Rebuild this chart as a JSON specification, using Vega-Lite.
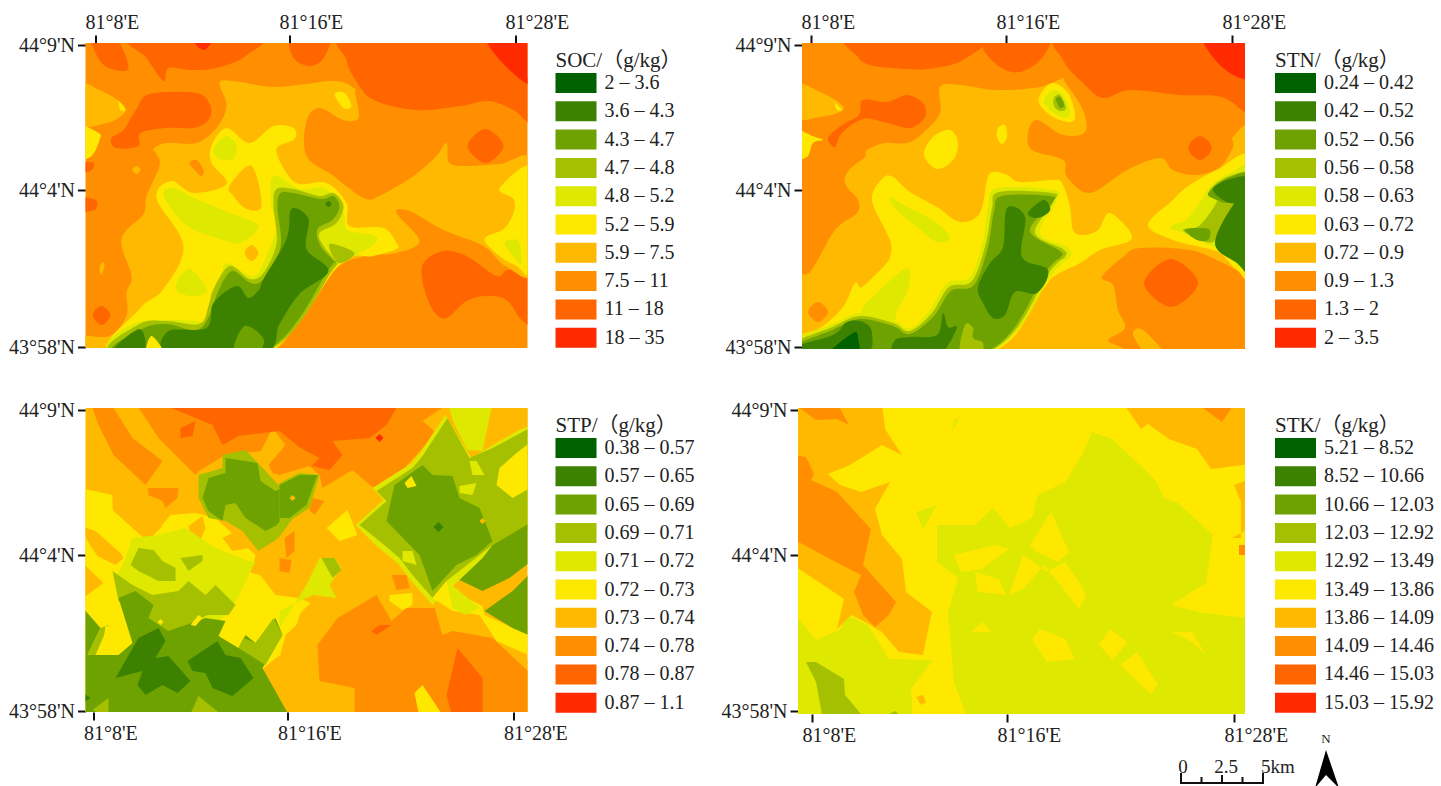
{"$schema":"https://vega.github.io/schema/vega-lite/v6.json","padding":{"left":7.5,"top":12,"right":0,"bottom":0},"background":"white",
"config":{"view":{"stroke":null},"axis":{"labelFont":"Liberation Serif","labelFontSize":20,"labelColor":"#222","tickColor":"#111","tickWidth":2,"tickSize":8,"domain":false,"grid":false,"title":null,"labelOverlap":false,"labelBound":false,"labelPadding":3},"legend":{"titleFont":"Liberation Serif, Noto Sans CJK SC","titleFontSize":21,"titleFontWeight":"normal","titleColor":"#222","labelFont":"Liberation Serif","labelFontSize":20,"labelColor":"#222","symbolType":"M-1,-1H3.1V1H-1Z","symbolSize":400,"symbolStrokeWidth":0,"symbolOpacity":1,"labelOffset":29,"rowPadding":8.3,"titlePadding":2,"padding":0,"orient":"none","labelLimit":200,"titleLimit":300}},
"datasets":{
"SOC":[
{"g":0,"k":"7.5 – 11","x":[-99,550,550,-99],"y":[-99,-99,450,450]},
{"g":1,"k":"11 – 18","x":[6,28,43,23,11],"y":[-9,-9,25,25,12]},
{"g":2,"k":"11 – 18","x":[43,174,160,131,105,83,78,61],"y":[-9,-9,13,25,27,25,38,15]},
{"g":3,"k":"18 – 35","x":[108,126,118],"y":[-3,-3,7]},
{"g":4,"k":"11 – 18","x":[206,243,240,226,208],"y":[-9,-9,12,23,15]},
{"g":5,"k":"11 – 18","x":[261,401,418,450,450,428,403,375,331,288,270,261],"y":[-9,-9,21,42,83,67,58,63,67,57,37,17]},
{"g":6,"k":"18 – 35","x":[401,450,450,418],"y":[-9,-9,42,21]},
{"g":7,"k":"11 – 18","x":[26,38,51,64,111,125,123,108,81,55,53,30],"y":[95,87,66,51,50,63,77,85,85,90,103,105]},
{"g":8,"k":"11 – 18","x":[-5,8,5,-5],"y":[120,120,128,128]},
{"g":9,"k":"11 – 18","x":[-5,10,11,5,-5],"y":[155,157,165,168,168]},
{"g":10,"k":"11 – 18","x":[7,16,25,16],"y":[272,263,272,282]},
{"g":11,"k":"11 – 18","x":[382,400,418,400],"y":[103,86,103,120]},
{"g":12,"k":"11 – 18","x":[338,358,381,411,423,450,450,436,421,401,381,361,348,338],"y":[220,208,213,233,227,235,281,277,257,253,258,275,268,243]},
{"g":13,"k":"5.9 – 7.5","x":[134,148,191,248,268,270,273,258,234,221,221,248,278,294,328,351,361,364,384,414,450,450,420,398,358,324,311,334,311,281,254,214,178,-9,-9,24,41,41,46,36,58,61,74,71,68,81,111,131,141],"y":[40,38,44,38,45,52,75,77,65,78,113,133,155,153,133,113,100,120,123,121,120,228,223,203,187,168,170,198,210,213,223,258,310,310,293,293,273,250,233,196,171,153,123,111,106,100,100,85,63]},
{"g":14,"k":"5.9 – 7.5","x":[-9,14,36,39,21,-9],"y":[40,47,60,70,80,81]},
{"g":15,"k":"5.2 – 5.9","x":[33,40,35],"y":[58,67,67]},
{"g":16,"k":"5.2 – 5.9","x":[-9,13,14,6,-9],"y":[83,90,97,113,115]},
{"g":17,"k":"5.9 – 7.5","x":[47,51,55,51],"y":[127,123,127,131]},
{"g":18,"k":"5.9 – 7.5","x":[14,17,19,16],"y":[225,219,222,232]},
{"g":19,"k":"7.5 – 11","x":[104,111,118,116,110],"y":[120,117,127,133,128]},
{"g":20,"k":"5.2 – 5.9","x":[126,141,164,188,208,209,191,201,214,241,261,264,298,311,311,288,254,178,28,54,78,98,71,86,108,141,126],"y":[103,85,100,83,85,96,106,130,141,140,160,183,185,200,206,213,222,310,310,266,246,203,155,138,150,141,120]},
{"g":21,"k":"5.9 – 7.5","x":[144,166,176,161,148],"y":[143,123,163,166,153]},
{"g":22,"k":"5.9 – 7.5","x":[159,166,173,166],"y":[210,202,210,218]},
{"g":23,"k":"4.8 – 5.2","x":[128,141,151,148,134],"y":[106,93,103,116,116]},
{"g":24,"k":"4.8 – 5.2","x":[78,86,111,144,173,154,135,111,94],"y":[153,145,156,170,183,200,196,188,176]},
{"g":25,"k":"4.8 – 5.2","x":[188,214,240,258,262,288,290,271,254,215,178,28,50,110,120,125,135,141,168,181,191,186],"y":[133,146,146,170,187,192,200,212,220,262,310,310,280,278,284,270,240,220,233,213,183,163]},
{"g":26,"k":"4.8 – 5.2","x":[91,104,121,111,94],"y":[240,226,246,253,250]},
{"g":27,"k":"5.2 – 5.9","x":[414,450,450,431,414,399,418,428,428],"y":[145,126,230,223,213,196,186,170,156]},
{"g":28,"k":"4.8 – 5.2","x":[419,433,436,431],"y":[200,198,220,217]},
{"g":29,"k":"5.2 – 5.9","x":[249,259,266,258],"y":[51,50,63,65]},
{"g":30,"k":"4.7 – 4.8","x":[191,208,234,248,258,251,234,238,251,248,178,28,54,81,114,123,128,144,164,178,191,188],"y":[146,146,153,150,163,180,190,203,220,226,310,310,281,278,281,263,246,223,236,230,200,163]},
{"g":31,"k":"4.3 – 4.7","x":[195,208,236,248,254,247,232,235,249,245,176,32,57,81,112,126,132,146,165,178,195,192],"y":[150,150,156,153,164,177,186,203,219,224,310,310,286,281,287,268,250,228,240,236,204,165]},
{"g":32,"k":"3.6 – 4.3","x":[206,223,221,243,214,194,178,84,83,121,128,151,163,174,178,201],"y":[166,176,206,228,251,281,310,310,288,285,260,243,255,246,236,196]},
{"g":33,"k":"4.3 – 4.7","x":[148,159,178,171],"y":[310,283,296,310]},
{"g":34,"k":"3.6 – 4.3","x":[26,54,58],"y":[310,286,310]},
{"g":35,"k":"5.2 – 5.9","x":[61,66,78],"y":[310,293,310]},
{"g":36,"k":"3.6 – 4.3","x":[240,243,246,243],"y":[161,158,161,164]},
{"g":37,"k":"4.7 – 4.8","x":[244,269,253],"y":[201,210,220]}
],
"STN":[
{"g":0,"k":"0.9 – 1.3","x":[-99,550,550,-99],"y":[-99,-99,450,450]},
{"g":1,"k":"1.3 – 2","x":[48,180,161,125,91,68,56],"y":[-9,-9,17,26,25,22,14]},
{"g":2,"k":"1.3 – 2","x":[181,191,246,240,218,198],"y":[5,-9,-9,15,29,24]},
{"g":3,"k":"1.3 – 2","x":[261,401,420,450,450,420,378,328,301,281,261],"y":[-9,-9,24,35,72,54,52,47,55,40,17]},
{"g":4,"k":"2 – 3.5","x":[401,450,450,420],"y":[-9,-9,35,24]},
{"g":5,"k":"1.3 – 2","x":[26,33,40,61,85,108,123,121,105,85,61,57,40],"y":[95,104,90,76,80,85,74,60,52,59,57,72,82]},
{"g":6,"k":"0.72 – 0.9","x":[138,158,195,238,261,263,281,283,261,235,226,230,261,265,288,325,358,371,395,418,431,431,450,450,435,421,388,338,321,300,311,316,323,306,300,-9,-9,8,33,55,56,45,43,50,63,65,83,105,121,138],"y":[44,42,47,44,35,39,67,89,92,77,90,107,117,134,150,127,115,127,132,124,104,94,92,230,227,220,207,205,214,234,242,267,285,297,312,312,235,229,187,170,157,144,134,124,114,107,100,100,90,70]},
{"g":7,"k":"0.72 – 0.9","x":[-9,18,40,38,18,-9],"y":[40,49,62,69,74,75]},
{"g":8,"k":"0.9 – 1.3","x":[6,16,26,16],"y":[269,259,269,279]},
{"g":9,"k":"1.3 – 2","x":[386,398,410,398],"y":[105,93,105,117]},
{"g":10,"k":"1.3 – 2","x":[342,369,396,369],"y":[240,216,240,264]},
{"g":11,"k":"0.72 – 0.9","x":[331,341,363,345],"y":[291,287,312,312]},
{"g":12,"k":"0.63 – 0.72","x":[33,40,35],"y":[60,67,67]},
{"g":13,"k":"0.63 – 0.72","x":[-9,13,21,11,5,-9],"y":[87,94,97,100,114,114]},
{"g":14,"k":"0.63 – 0.72","x":[122,131,148,156,151,135],"y":[112,94,87,100,117,126]},
{"g":15,"k":"0.63 – 0.72","x":[196,203,205,200,195],"y":[85,82,94,101,94]},
{"g":16,"k":"0.63 – 0.72","x":[238,250,266,273,268,251,238],"y":[52,40,50,72,79,74,62]},
{"g":17,"k":"0.58 – 0.63","x":[243,252,262,268,262,252,243],"y":[55,47,53,70,75,70,62]},
{"g":18,"k":"0.56 – 0.58","x":[252,258,264,258,252],"y":[55,52,65,68,63]},
{"g":19,"k":"0.52 – 0.56","x":[254,258,262,258],"y":[56,54,62,65]},
{"g":20,"k":"0.63 – 0.72","x":[70,81,91,108,135,158,178,185,191,205,218,251,260,268,271,281,296,308,330,298,278,251,238,181,-9,-9,18,41,53,60,81,88,88],"y":[157,135,134,149,164,179,170,137,129,132,139,137,140,164,187,192,187,170,195,207,220,234,250,312,312,295,285,264,240,244,224,214,197]},
{"g":21,"k":"0.58 – 0.63","x":[88,105,131,148,135,115,95],"y":[154,164,177,194,199,184,167]},
{"g":22,"k":"0.58 – 0.63","x":[105,106,95,91,60,75],"y":[225,247,267,277,269,250]},
{"g":23,"k":"0.58 – 0.63","x":[186,195,251,255,238,265,268,251,181,-9,-9,28,58,91,108,128,145,168,181],"y":[164,145,147,157,190,204,214,230,312,312,297,282,270,277,285,267,240,234,197]},
{"g":24,"k":"0.56 – 0.58","x":[190,197,250,252,233,261,263,248,179,-9,-9,28,58,91,108,130,147,170,184],"y":[165,149,150,158,190,206,214,228,312,312,300,285,273,280,288,270,244,238,200]},
{"g":25,"k":"0.52 – 0.56","x":[192,200,248,250,228,258,258,245,177,-9,-9,28,58,91,108,132,149,172,186],"y":[168,153,153,160,188,208,215,227,312,312,303,288,276,283,291,273,248,242,204]},
{"g":26,"k":"0.42 – 0.52","x":[205,223,220,246,235,213,203,191,181,176,188,201],"y":[165,174,214,227,250,249,272,275,260,244,220,204]},
{"g":27,"k":"0.42 – 0.52","x":[226,241,248,246,235],"y":[170,157,164,170,175]},
{"g":28,"k":"0.42 – 0.52","x":[93,108,135,141,146,155,145,135,93],"y":[297,294,292,270,284,284,304,312,312]},
{"g":29,"k":"0.56 – 0.58","x":[158,163,171,171,181,178],"y":[312,282,285,295,300,312]},
{"g":30,"k":"0.42 – 0.52","x":[-9,-9,31,45,61,70,61],"y":[312,304,292,279,279,290,312]},
{"g":31,"k":"0.24 – 0.42","x":[26,51,56,55],"y":[312,290,295,312]},
{"g":32,"k":"0.63 – 0.72","x":[346,371,385,415,450,450,435,418,398,371],"y":[182,157,144,127,117,230,227,210,204,197]},
{"g":33,"k":"0.58 – 0.63","x":[368,386,401,408,428,450,450,418,401,381],"y":[184,175,154,144,130,129,224,207,199,190]},
{"g":34,"k":"0.56 – 0.58","x":[381,395,405,415,408,425,450,450,431,418,411,398],"y":[187,184,174,157,147,134,130,157,164,187,199,197]},
{"g":35,"k":"0.52 – 0.56","x":[383,398,408,406,395],"y":[187,185,187,197,197]},
{"g":36,"k":"0.52 – 0.56","x":[406,411,428,450,450,426,415],"y":[152,145,134,130,157,160,157]},
{"g":37,"k":"0.42 – 0.52","x":[411,425,450,450,428],"y":[147,137,134,156,160]},
{"g":38,"k":"0.42 – 0.52","x":[413,435,450,450,435],"y":[200,157,157,229,220]}
],
"STP":[
{"g":0,"k":"0.73 – 0.74","x":[-99,550,550,-99],"y":[-99,-99,450,450]},
{"g":1,"k":"0.74 – 0.78","x":[5,25,47,77,60,28,13],"y":[-5,-5,30,53,77,47,17]},
{"g":2,"k":"0.74 – 0.78","x":[50,73,110,113,140,177,187,194,224,234,237,267,294,307,351,337,364],"y":[-5,30,67,63,47,43,65,67,58,67,80,62,85,73,25,13,-5]},
{"g":3,"k":"0.73 – 0.74","x":[172,187,200,183],"y":[50,20,37,57]},
{"g":4,"k":"0.78 – 0.87","x":[72,314,301,284,247,257,244,226,234,215,194,153,137,127,93],"y":[-5,-5,17,30,33,47,62,58,50,40,23,28,37,17,3]},
{"g":5,"k":"0.78 – 0.87","x":[95,110,107,95],"y":[20,13,28,30]},
{"g":6,"k":"0.87 – 1.1","x":[290,294,298,294],"y":[30,26,30,34]},
{"g":7,"k":"0.74 – 0.78","x":[62,93,92,80,77,63],"y":[80,80,90,100,93,87]},
{"g":8,"k":"0.72 – 0.73","x":[-5,27,27,50,63,85,110,130,170,165,190,215,240,215,205,200,190,175,205,-5],"y":[80,87,100,120,133,107,105,110,147,165,170,165,180,205,235,245,250,263,310,310]},
{"g":9,"k":"0.73 – 0.74","x":[-5,10,35,38,30,12,2],"y":[118,123,145,150,157,148,133]},
{"g":10,"k":"0.73 – 0.74","x":[-5,18,-5],"y":[153,175,192]},
{"g":11,"k":"0.73 – 0.74","x":[27,38,53,77,68,77,62,47,28],"y":[90,80,83,107,110,118,133,120,103]},
{"g":12,"k":"0.73 – 0.74","x":[103,117,120,113,105],"y":[118,108,120,137,127]},
{"g":13,"k":"0.73 – 0.74","x":[137,147,163,147],"y":[130,125,140,143]},
{"g":14,"k":"0.73 – 0.74","x":[167,177,203,213,230,254,277,294,300,314,334,347,381,410,450,450,241,231,207,194,200,224,237,213,190,177],"y":[160,143,120,117,110,130,127,130,147,157,183,193,207,235,255,310,310,287,253,250,227,205,200,190,187,170]},
{"g":15,"k":"0.74 – 0.78","x":[232,252,291,306,321,349,357,367,407,450,450,269,269,234],"y":[237,210,187,213,200,200,227,223,230,270,310,310,280,273]},
{"g":16,"k":"0.72 – 0.73","x":[329,337,359,334],"y":[285,277,310,310]},
{"g":17,"k":"0.78 – 0.87","x":[361,372,397,397,367],"y":[287,240,270,310,310]},
{"g":18,"k":"0.78 – 0.87","x":[286,294,306,291],"y":[223,217,217,227]},
{"g":19,"k":"0.72 – 0.73","x":[304,327,327,317,304],"y":[187,185,197,202,193]},
{"g":20,"k":"0.74 – 0.78","x":[306,321,324,311],"y":[167,167,180,182]},
{"g":21,"k":"0.74 – 0.78","x":[194,206,204,194],"y":[150,152,165,163]},
{"g":22,"k":"0.74 – 0.78","x":[199,209,209,201],"y":[130,123,143,150]},
{"g":23,"k":"0.74 – 0.78","x":[227,239,229,224],"y":[90,93,107,102]},
{"g":24,"k":"0.72 – 0.73","x":[241,262,272,254],"y":[120,102,127,133]},
{"g":25,"k":"0.71 – 0.72","x":[221,234,249,256,244,251,227,194,194],"y":[177,150,150,160,177,190,187,203,220]},
{"g":26,"k":"0.69 – 0.71","x":[236,249,256,247],"y":[150,150,162,170]},
{"g":27,"k":"0.71 – 0.72","x":[270,298,287,325,335,360,386,407,450,450,407,362,347,325,312,290],"y":[117,92,80,56,44,7,50,37,13,120,145,182,197,172,155,137]},
{"g":28,"k":"0.69 – 0.71","x":[274,301,291,327,337,362,384,407,450,450,407,361,347,327,314,294],"y":[117,93,83,60,48,10,50,40,17,113,137,173,190,167,150,133]},
{"g":29,"k":"0.71 – 0.72","x":[362,407,397,382,369],"y":[-5,-5,43,42,17]},
{"g":30,"k":"0.73 – 0.74","x":[407,450,450,407],"y":[-5,-5,17,28]},
{"g":31,"k":"0.72 – 0.73","x":[414,431,450,450,427,411],"y":[60,45,30,77,90,77]},
{"g":32,"k":"0.72 – 0.73","x":[347,361,374,397,399,427,450,450,411,394,367],"y":[190,173,187,198,207,220,230,250,233,207,203]},
{"g":33,"k":"0.71 – 0.72","x":[361,374,394,380,367],"y":[173,183,200,207,200]},
{"g":34,"k":"0.65 – 0.69","x":[301,309,337,347,367,374,394,407,391,371,347,334],"y":[113,77,57,67,68,90,100,133,147,157,183,147]},
{"g":35,"k":"0.65 – 0.69","x":[374,397,407,450,450,424,397],"y":[172,150,137,112,150,170,183]},
{"g":36,"k":"0.65 – 0.69","x":[399,427,450,450,427],"y":[203,183,160,230,220]},
{"g":37,"k":"0.57 – 0.65","x":[348,353,358,353],"y":[119,114,119,124]},
{"g":38,"k":"0.72 – 0.73","x":[319,326,331,322],"y":[75,68,78,80]},
{"g":39,"k":"0.73 – 0.74","x":[394,397,400,397],"y":[113,110,113,116]},
{"g":40,"k":"0.71 – 0.72","x":[384,391,399,387],"y":[53,53,67,67]},
{"g":41,"k":"0.71 – 0.72","x":[374,391,387,374],"y":[78,75,87,85]},
{"g":42,"k":"0.71 – 0.72","x":[317,327,331,317],"y":[143,143,157,153]},
{"g":43,"k":"0.69 – 0.71","x":[113,113,137,137,160,180,193,213,213,193,173,157,140,123],"y":[90,67,60,47,42,63,77,67,103,130,143,123,113,110]},
{"g":44,"k":"0.65 – 0.69","x":[117,123,140,140,160,172,175,190,203,205,190,180,160,150,140,137,123],"y":[90,70,65,50,53,55,73,83,78,103,118,123,110,95,97,113,103]},
{"g":45,"k":"0.69 – 0.71","x":[194,214,234,224,204,194],"y":[75,65,67,100,113,117]},
{"g":46,"k":"0.65 – 0.69","x":[194,214,232,221,204,194],"y":[77,67,67,97,110,110]},
{"g":47,"k":"0.73 – 0.74","x":[204,207,210,207],"y":[90,87,90,93]},
{"g":48,"k":"0.71 – 0.72","x":[40,47,73,100,130,163,170,147,127,80,53,30],"y":[150,130,127,120,140,153,153,200,220,230,187,170]},
{"g":49,"k":"0.69 – 0.71","x":[45,53,68,77,90,90,73,53],"y":[157,140,142,153,160,173,173,163]},
{"g":50,"k":"0.69 – 0.71","x":[95,117,117,103],"y":[150,147,153,163]},
{"g":51,"k":"0.69 – 0.71","x":[27,47,67,93,103,120,130,150,143,122,80,70,33],"y":[163,177,187,183,173,187,177,197,207,207,230,220,193]},
{"g":52,"k":"0.65 – 0.69","x":[-5,15,2,33,47,33,50,68,63,83,120,140,133,153,160,170,190,197,177,205,-5],"y":[197,220,247,247,235,190,183,197,210,223,210,213,228,240,227,235,210,227,260,310,310]},
{"g":53,"k":"0.69 – 0.71","x":[158,170,188,197,180,153],"y":[230,235,210,227,257,240]},
{"g":54,"k":"0.69 – 0.71","x":[15,23,10,2],"y":[220,217,247,247]},
{"g":55,"k":"0.72 – 0.73","x":[20,33,33,17],"y":[217,227,243,243]},
{"g":56,"k":"0.69 – 0.71","x":[7,23,23],"y":[302,290,310]},
{"g":57,"k":"0.69 – 0.71","x":[113,140,103],"y":[288,310,310]},
{"g":58,"k":"0.57 – 0.65","x":[30,53,73,80,70,83,105,92,77,60,52,57],"y":[270,230,220,233,250,248,273,285,277,287,277,263]},
{"g":59,"k":"0.57 – 0.65","x":[102,132,140,155,168,147,127,120,107],"y":[253,233,247,250,270,288,280,265,263]},
{"g":60,"k":"0.57 – 0.65","x":[-5,5,-5],"y":[283,290,297]},
{"g":61,"k":"0.72 – 0.73","x":[72,75,78,75],"y":[214,211,214,217]},
{"g":62,"k":"0.72 – 0.73","x":[105,113,117,110],"y":[217,207,210,218]}
],
"STK":[
{"g":0,"k":"12.92 – 13.49","x":[-99,550,550,-99],"y":[-99,-99,450,450]},
{"g":1,"k":"13.49 – 13.86","x":[-5,452,452,405,373,408,415,380,366,358,345,314,294,284,267,240,234,212,195,177,139,139,160,150,156,170,115,113,135,90,87,70,49,42,18,-5],"y":[-5,-5,210,205,197,175,127,95,90,73,60,31,24,47,74,87,110,120,100,117,117,154,170,204,274,312,312,281,252,251,244,217,207,222,232,204]},
{"g":2,"k":"12.92 – 13.49","x":[118,139,125],"y":[104,97,121]},
{"g":3,"k":"12.92 – 13.49","x":[156,161,154],"y":[11,11,24]},
{"g":4,"k":"13.49 – 13.86","x":[211,225,249,267,281,288,281,260,246,225],"y":[187,147,164,154,174,187,201,174,157,181]},
{"g":5,"k":"13.49 – 13.86","x":[232,253,271,260,239],"y":[137,104,144,154,144]},
{"g":6,"k":"13.49 – 13.86","x":[156,197,211,184,163],"y":[147,137,141,161,164]},
{"g":7,"k":"13.49 – 13.86","x":[177,201,208,180],"y":[164,171,187,184]},
{"g":8,"k":"13.49 – 13.86","x":[234,242,267,277,249],"y":[231,221,231,251,254]},
{"g":9,"k":"13.49 – 13.86","x":[301,312,329,315],"y":[237,221,234,252]},
{"g":10,"k":"13.49 – 13.86","x":[322,339,360,353],"y":[257,244,277,286]},
{"g":11,"k":"13.49 – 13.86","x":[374,394,408,394],"y":[224,224,247,234]},
{"g":12,"k":"13.49 – 13.86","x":[166,184,194,173],"y":[231,214,224,224]},
{"g":13,"k":"13.86 – 14.09","x":[-5,84,87,104,84,52,30,42,63,92,77,84,104,108,134,129,125,101,84,67,53,39,46,-5],"y":[-5,-5,21,47,37,57,66,77,84,74,101,127,151,184,204,227,247,244,224,214,207,221,191,157]},
{"g":14,"k":"14.09 – 14.46","x":[-5,8,16,13,39,73,65,98,91,77,65,56,63,32,-5],"y":[47,49,66,72,84,121,157,194,207,219,207,184,167,151,131]},
{"g":15,"k":"14.09 – 14.46","x":[-5,39,51,39,18],"y":[-5,-5,17,11,12]},
{"g":16,"k":"13.86 – 14.09","x":[325,452,452,413,399,371,350,343],"y":[-5,-5,56,61,41,31,16,21]},
{"g":17,"k":"14.09 – 14.46","x":[398,437,424],"y":[-5,-5,14]},
{"g":18,"k":"13.86 – 14.09","x":[452,436,443,443,434,452],"y":[71,77,94,130,130,120]},
{"g":19,"k":"14.09 – 14.46","x":[441,452,452,441],"y":[137,137,147,147]},
{"g":20,"k":"12.03 – 12.92","x":[8,18,46,47,68,25,18],"y":[254,254,271,287,312,312,274]},
{"g":21,"k":"12.03 – 12.92","x":[80,97,108],"y":[312,303,312]},
{"g":22,"k":"13.86 – 14.09","x":[118,125,128,123],"y":[289,287,294,297]}
],
"bar":[{"x":383,"x2":465,"y":375,"y2":375},{"x":383,"x2":383,"y":365,"y2":376},{"x":403.5,"x2":403.5,"y":369,"y2":376},{"x":424,"x2":424,"y":367,"y2":376},{"x":444.5,"x2":444.5,"y":369,"y2":376},{"x":465,"x2":465,"y":365,"y2":376}],
"barText":[{"x":385,"y":359,"t":"0"},{"x":428,"y":359,"t":"2.5"},{"x":480,"y":359,"t":"5km"}],
"arrow":[{"x":[528,541,528,517],"y":[342,380,367,380]}],
"northText":[{"x":528,"y":331,"t":"N"}]
},
"resolve":{"scale":{"color":"independent"},"legend":{"color":"independent"}},
"vconcat":[
{"resolve":{"scale":{"color":"independent"},"legend":{"color":"independent"}},"hconcat":[
{"width":442,"height":305,"data":{"name":"SOC"},"transform":[{"flatten":["x","y"]}],"mark":{"type":"line","filled":true,"clip":true,"interpolate":"cardinal-closed","strokeWidth":0},
"encoding":{"order":{"value":null},"detail":{"field":"g"},
"x":{"field":"x","type":"quantitative","scale":{"domain":[0,442],"nice":false,"zero":false},"axis":{"orient":"top","values":[9.5,203.5,429.5],"labelAlign":"left","labelOffset":-10,"labelExpr":"datum.value<50?\"81°8'E\":datum.value<300?\"81°16'E\":\"81°28'E\""}},
"y":{"field":"y","type":"quantitative","scale":{"domain":[0,305],"nice":false,"zero":false,"reverse":true},"axis":{"orient":"left","values":[2,147,304],"labelExpr":"datum.value<50?\"44°9'N\":datum.value<200?\"44°4'N\":\"43°58'N\""}},
"color":{"field":"k","type":"nominal","scale":{"domain":["2 – 3.6","3.6 – 4.3","4.3 – 4.7","4.7 – 4.8","4.8 – 5.2","5.2 – 5.9","5.9 – 7.5","7.5 – 11","11 – 18","18 – 35"],"range":["#006100","#3c8200","#6ea200","#a5c000","#dfe800","#ffe800","#ffb900","#ff8f00","#ff6600","#ff2a00"]},"legend":{"title":"SOC/（g/kg）","legendX":470,"legendY":7}}}},
{"width":443,"height":306,"data":{"name":"STN"},"transform":[{"flatten":["x","y"]}],"mark":{"type":"line","filled":true,"clip":true,"interpolate":"cardinal-closed","strokeWidth":0},
"encoding":{"order":{"value":null},"detail":{"field":"g"},
"x":{"field":"x","type":"quantitative","scale":{"domain":[0,443],"nice":false,"zero":false},"axis":{"orient":"top","values":[9,204,430],"labelAlign":"left","labelOffset":-10,"labelExpr":"datum.value<50?\"81°8'E\":datum.value<300?\"81°16'E\":\"81°28'E\""}},
"y":{"field":"y","type":"quantitative","scale":{"domain":[0,306],"nice":false,"zero":false,"reverse":true},"axis":{"orient":"left","values":[2,147,304],"labelExpr":"datum.value<50?\"44°9'N\":datum.value<200?\"44°4'N\":\"43°58'N\""}},
"color":{"field":"k","type":"nominal","scale":{"domain":["0.24 – 0.42","0.42 – 0.52","0.52 – 0.56","0.56 – 0.58","0.58 – 0.63","0.63 – 0.72","0.72 – 0.9","0.9 – 1.3","1.3 – 2","2 – 3.5"],"range":["#006100","#3c8200","#6ea200","#a5c000","#dfe800","#ffe800","#ffb900","#ff8f00","#ff6600","#ff2a00"]},"legend":{"title":"STN/（g/kg）","legendX":473,"legendY":7}}}}
],"spacing":274.5,"bounds":"flush"},
{"resolve":{"scale":{"color":"independent"},"legend":{"color":"independent"}},"hconcat":[
{"width":442,"height":304,"data":{"name":"STP"},"transform":[{"flatten":["x","y"]}],"mark":{"type":"line","filled":true,"clip":true,"interpolate":"linear-closed","strokeWidth":0},
"encoding":{"order":{"value":null},"detail":{"field":"g"},
"x":{"field":"x","type":"quantitative","scale":{"domain":[0,442],"nice":false,"zero":false},"axis":{"orient":"bottom","values":[8,202,428],"labelAlign":"left","labelOffset":-10,"labelExpr":"datum.value<50?\"81°8'E\":datum.value<300?\"81°16'E\":\"81°28'E\""}},
"y":{"field":"y","type":"quantitative","scale":{"domain":[0,304],"nice":false,"zero":false,"reverse":true},"axis":{"orient":"left","values":[2,147,303],"labelExpr":"datum.value<50?\"44°9'N\":datum.value<200?\"44°4'N\":\"43°58'N\""}},
"color":{"field":"k","type":"nominal","scale":{"domain":["0.38 – 0.57","0.57 – 0.65","0.65 – 0.69","0.69 – 0.71","0.71 – 0.72","0.72 – 0.73","0.73 – 0.74","0.74 – 0.78","0.78 – 0.87","0.87 – 1.1"],"range":["#006100","#3c8200","#6ea200","#a5c000","#dfe800","#ffe800","#ffb900","#ff8f00","#ff6600","#ff2a00"]},"legend":{"title":"STP/（g/kg）","legendX":470,"legendY":7}}}},
{"width":447,"height":306,"layer":[
{"data":{"name":"STK"},"transform":[{"flatten":["x","y"]}],"mark":{"type":"line","filled":true,"clip":true,"interpolate":"linear-closed","strokeWidth":0},
"encoding":{"order":{"value":null},"detail":{"field":"g"},
"x":{"field":"x","type":"quantitative","scale":{"domain":[0,447],"nice":false,"zero":false},"axis":{"orient":"bottom","values":[14,209,436],"labelAlign":"left","labelOffset":-10,"labelExpr":"datum.value<50?\"81°8'E\":datum.value<300?\"81°16'E\":\"81°28'E\""}},
"y":{"field":"y","type":"quantitative","scale":{"domain":[0,306],"nice":false,"zero":false,"reverse":true},"axis":{"orient":"left","values":[2,147,303],"labelExpr":"datum.value<50?\"44°9'N\":datum.value<200?\"44°4'N\":\"43°58'N\""}},
"color":{"field":"k","type":"nominal","scale":{"domain":["5.21 – 8.52","8.52 – 10.66","10.66 – 12.03","12.03 – 12.92","12.92 – 13.49","13.49 – 13.86","13.86 – 14.09","14.09 – 14.46","14.46 – 15.03","15.03 – 15.92"],"range":["#006100","#3c8200","#6ea200","#a5c000","#dfe800","#ffe800","#ffb900","#ff8f00","#ff6600","#ff2a00"]},"legend":{"title":"STK/（g/kg）","legendX":477,"legendY":7}}}},
{"data":{"name":"bar"},"mark":{"type":"rule","color":"#111","strokeWidth":2},"encoding":{"x":{"field":"x","type":"quantitative"},"x2":{"field":"x2"},"y":{"field":"y","type":"quantitative"},"y2":{"field":"y2"}}},
{"data":{"name":"barText"},"mark":{"type":"text","font":"Liberation Serif","fontSize":19,"color":"#222"},"encoding":{"x":{"field":"x","type":"quantitative"},"y":{"field":"y","type":"quantitative"},"text":{"field":"t"}}},
{"data":{"name":"arrow"},"transform":[{"flatten":["x","y"]}],"mark":{"type":"line","filled":true,"color":"black","interpolate":"linear-closed","strokeWidth":0},"encoding":{"order":{"value":null},"x":{"field":"x","type":"quantitative"},"y":{"field":"y","type":"quantitative"}}},
{"data":{"name":"northText"},"mark":{"type":"text","font":"Liberation Serif","fontSize":13,"color":"#222"},"encoding":{"x":{"field":"x","type":"quantitative"},"y":{"field":"y","type":"quantitative"},"text":{"field":"t"}}}
]}
],"spacing":270.5,"bounds":"flush"}
],"spacing":43}
